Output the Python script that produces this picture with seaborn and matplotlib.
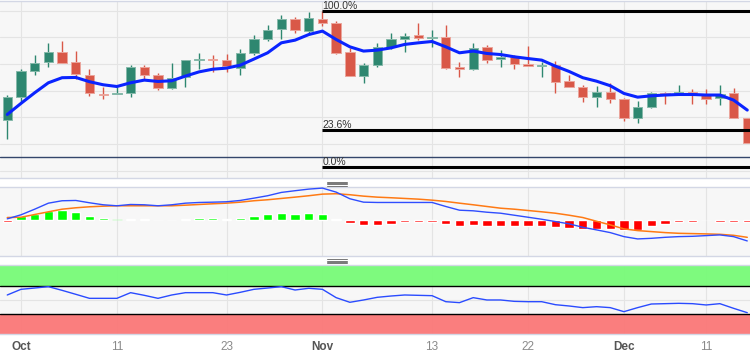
import pandas as pd
import matplotlib
matplotlib.use("Agg")
from matplotlib import pyplot as plt
from matplotlib.lines import Line2D
import seaborn as sns

# daily candles (price in chart units)
open_ = [19, 27.75, 37.6, 40.75, 44.4, 40.75, 36, 28.9, 28.6,
         29.25, 38.9, 35.75, 30.9, 35, 41.4, 41.9, 41.4, 38.4,
         44, 49.4, 53.1, 57, 52.5, 56.9, 55.6, 44.4, 35.5,
         39.6, 46.5, 49.5, 50.9, 49.75, 50.1, 39.1, 38.1, 46.25, 42.1,
         42.75, 39.9, 39.25, 39.6, 33.6, 31.5, 27.5, 29.4, 26.75, 19.6,
         24, 29, 29.1, 29.5, 28.25, 27.25, 29.1, 19.9]
close = [27.5, 37.5, 40.6, 44.4, 40.4, 36.25, 29, 28.4, 29.1,
         39, 35.9, 31.1, 34.9, 41.5, 41.9, 41.5, 39.25, 44,
         49.5, 53, 57, 52.75, 57.4, 55.6, 44, 35.5, 39.5,
         46.5, 49.6, 50.6, 49.9, 50, 38.6, 38.25, 46.1, 41.5, 42.5,
         39.9, 39.4, 39.6, 33.4, 31.5, 27.5, 29.4, 26.75, 19.6, 23.9,
         29, 28.6, 29.5, 28.9, 27, 28.9, 19.9, 10.5]
high = [28.4, 38.1, 43.6, 48.1, 48.5, 44.75, 38, 31.25, 31.25,
        39.6, 39.5, 36.5, 40.4, 41.5, 44.1, 43.4, 43.75, 45.6,
        51.1, 54.6, 58.4, 57.75, 59.4, 60, 56.1, 45.9, 40.25,
        48.1, 51.5, 51.5, 55.6, 53, 54.6, 40.9, 48, 47.1, 45.25,
        43.4, 46.75, 40.9, 41.1, 36.1, 32.1, 31.75, 32.75, 27.4, 26.1,
        29.4, 29.4, 32.1, 30.5, 30.5, 32.1, 30.9, 19.9]
low = [11.75, 25.9, 36.1, 39.1, 40.4, 34.25, 28.1, 26.75, 28.6,
       27.75, 34, 30.25, 30.5, 31.5, 38, 36.9, 36.9, 36.1,
       43.4, 48.75, 49.6, 51.5, 51.5, 54.25, 43.75, 35.5, 32.75,
       39, 45.5, 44.6, 49, 46.5, 38.1, 35.25, 37.75, 40.5, 39,
       38, 39.4, 35, 29.25, 31.5, 25.9, 24, 25.25, 18.6, 17.75,
       23.4, 24.9, 28.4, 24.9, 24.9, 24.5, 19.9, 10.5]
ema = [21.1, 25.25, 29.25, 33, 34.9, 35, 33.4, 32.25, 31.6,
       33, 34, 33.5, 33.75, 35.5, 37.1, 38.1, 38.5, 39.6,
       41.9, 44.25, 48, 49, 51.1, 52.4, 49.25, 46.5, 44.9,
       45.25, 46.1, 47.4, 48, 48.5, 46.5, 44.25, 44.9, 44, 43.6,
       42.75, 42.1, 41.5, 39.25, 37.25, 34.9, 33.6, 31.9, 29, 27.6,
       28.1, 28.4, 28.6, 28.6, 28.4, 28.4, 26.5, 22.75]

# MACD panel
macd = [0.07, 0.47, 1.03, 1.63, 1.87, 1.9, 1.67, 1.47, 1.37,
        1.5, 1.47, 1.37, 1.47, 1.63, 1.7, 1.73, 1.77, 1.9,
        2.13, 2.37, 2.7, 2.87, 3.03, 3.13, 2.73, 2.07, 1.73,
        1.7, 1.7, 1.7, 1.7, 1.7, 1.3, 0.93, 0.87, 0.73, 0.63,
        0.43, 0.23, 0.03, -0.2, -0.43, -0.77, -1.03, -1.3, -1.7, -1.93,
        -1.87, -1.77, -1.7, -1.67, -1.6, -1.53, -1.7, -2.13]
signal = [0.2, 0.23, 0.5, 0.77, 1.03, 1.17, 1.27, 1.33, 1.37,
          1.37, 1.37, 1.37, 1.37, 1.43, 1.5, 1.57, 1.63, 1.73,
          1.87, 1.97, 2.1, 2.23, 2.37, 2.53, 2.57, 2.47, 2.33,
          2.23, 2.17, 2.1, 2.03, 1.93, 1.8, 1.63, 1.47, 1.3, 1.13,
          1.03, 0.9, 0.77, 0.63, 0.43, 0.2, -0.17, -0.53, -0.93, -1.1,
          -1.2, -1.3, -1.37, -1.4, -1.43, -1.47, -1.57, -1.77]
histo = [-0.2, 0.33, 0.6, 0.9, 0.93, 0.77, 0.4, 0.13, 0.02,
         0.1, 0.1, -0.03, -0.03, 0.07, 0.17, 0.2, 0.1, 0.17,
         0.33, 0.53, 0.67, 0.6, 0.63, 0.53, 0.1, -0.33, -0.57,
         -0.5, -0.4, -0.27, -0.2, -0.2, -0.43, -0.67, -0.57, -0.6, -0.6,
         -0.6, -0.6, -0.67, -0.77, -0.83, -0.9, -0.93, -0.93, -1.07, -1.0,
         -0.67, -0.4, -0.23, -0.2, -0.04, -0.2, -0.23, -0.23]

# RSI panel
rsi = [57.1, 65.4, 67.3, 69.3, 63.9, 58.1, 52.2, 52.2, 52.2,
       60.5, 56.6, 52.2, 57.1, 60.5, 60.5, 60.5, 57.1, 61,
       65.4, 67.3, 69.3, 64.4, 66.9, 65.4, 53.2, 46.4, 49.8,
       53.7, 55.6, 57.1, 56.6, 56.1, 47.3, 45.9, 53.2, 49.8, 49.8,
       47.8, 47.3, 47.3, 42.9, 41, 38.6, 40, 38.6, 32.7, 38.6,
       43.9, 44.4, 44.9, 44.4, 42.5, 44.4, 37.6, 31.2]

tick_idx = [1, 8, 16, 23, 31, 38, 45, 51]
tick_labels = ["Oct", "11", "23", "Nov", "13", "22", "Dec", "11"]
months = {"Oct", "Nov", "Dec"}

fib_levels = [1.0, 0.236, 0.0]
fib_labels = ["100.0%", "23.6%", "0.0%"]
fib_high, fib_low = 60.0, 1.5
fib_start = 23
support = 5.1

df = pd.DataFrame({"open": open_, "high": high, "low": low, "close": close,
                   "ema": ema, "macd": macd, "signal": signal, "histo": histo, "rsi": rsi})
df["i"] = range(len(df))

sns.set_style("whitegrid", {"axes.facecolor": "#f7f7f7", "grid.color": "#e4e4e4",
                            "axes.edgecolor": "#d3d7e5"})
plt.rcParams["font.family"] = ["Liberation Sans", "DejaVu Sans"]

fig = plt.figure(figsize=(7.5, 3.6), dpi=100)
H = 360.0


def box(top, bottom):
    return [0, 1 - bottom / H, 1, (bottom - top) / H]


ax_p = fig.add_axes(box(1, 178))
ax_m = fig.add_axes(box(187, 256))
ax_r = fig.add_axes(box(265, 334))
xlim = (-0.53, 54.2)

# candles
up = df["close"] >= df["open"]
face = ["#2e8770" if u else "#d95848" for u in up]
edge = ["#86b9aa" if u else "#eba59c" for u in up]
body_lo = df[["open", "close"]].min(axis=1)
body_h = (df["close"] - df["open"]).abs().clip(lower=0.35)
ax_p.vlines(df["i"], df["low"], df["high"], colors=face, lw=1, zorder=2)
ax_p.bar(df["i"], body_h, bottom=body_lo, width=0.68, color=face, edgecolor=edge,
         linewidth=0.7, zorder=3)
sns.lineplot(data=df, x="i", y="ema", ax=ax_p, color="#0a24ff", lw=2.2, zorder=4)
ax_p.axhline(support, color="#34466b", lw=1, zorder=2)
for lvl, lab in zip(fib_levels, fib_labels):
    price = fib_low + lvl * (fib_high - fib_low)
    ax_p.hlines(price, fib_start, xlim[1], color="black", lw=2.2, zorder=5)
    ax_p.text(fib_start, price + 0.8, lab, fontsize=7.5, color="#333333",
              va="baseline", ha="left", clip_on=False, zorder=6)
ax_p.set_ylim(-2.75, 63.7)
ax_p.set_yticks(range(0, 61, 10))

# MACD
hcol = ["#00ff00" if v >= 0 else "#ff0000" for v in df["histo"]]
halpha = [0.25 if abs(v) < 0.05 else 1.0 for v in df["histo"]]
for xi, v, c, a in zip(df["i"], df["histo"], hcol, halpha):
    ax_m.bar(xi, v, width=0.68, color=c, alpha=a, zorder=2)
sns.lineplot(data=df, x="i", y="signal", ax=ax_m, color="#ff7a14", lw=1.1, zorder=3)
sns.lineplot(data=df, x="i", y="macd", ax=ax_m, color="#2f4dff", lw=1.0, zorder=4)
ax_m.set_ylim(-3.63, 3.24)
ax_m.set_yticks([])

# RSI
ax_r.axhspan(70, 101, color="#78fb78", alpha=0.95, lw=0, zorder=1)
ax_r.axhspan(0, 30, color="#fb7878", alpha=0.95, lw=0, zorder=1)
ax_r.axhline(70, color="black", lw=1, zorder=2)
ax_r.axhline(30, color="black", lw=1, zorder=2)
sns.lineplot(data=df, x="i", y="rsi", ax=ax_r, color="#2a4bff", lw=1.0, zorder=3)
ax_r.set_ylim(0, 101)
ax_r.set_yticks([50])

for ax in (ax_p, ax_m, ax_r):
    ax.set_xlim(*xlim)
    ax.set_xticks(tick_idx)
    ax.set(xlabel="", ylabel="")
    ax.tick_params(length=0, labelleft=False, labelbottom=False)
    ax.spines["left"].set_visible(False)
    ax.spines["right"].set_visible(False)
    for s in ("top", "bottom"):
        ax.spines[s].set_color("#d3d7e5")
        ax.spines[s].set_linewidth(1)

ax_r.tick_params(labelbottom=True, pad=5)
ax_r.set_xticklabels(tick_labels)
for lab in ax_r.get_xticklabels():
    if lab.get_text() in months:
        lab.set_color("#555555")
        lab.set_fontweight("bold")
    else:
        lab.set_color("#8a8a8a")
    lab.set_fontsize(8.5)

# panel drag handles
for ys in ([181.7, 183, 184.3, 185.7], [259.3, 260.7, 262, 263.3]):
    for y in ys:
        fig.add_artist(Line2D([326.7 / 750, 346.7 / 750], [1 - y / H] * 2,
                              color="#777777", lw=0.7))

fig.savefig("out.png", dpi=100, facecolor="white")
